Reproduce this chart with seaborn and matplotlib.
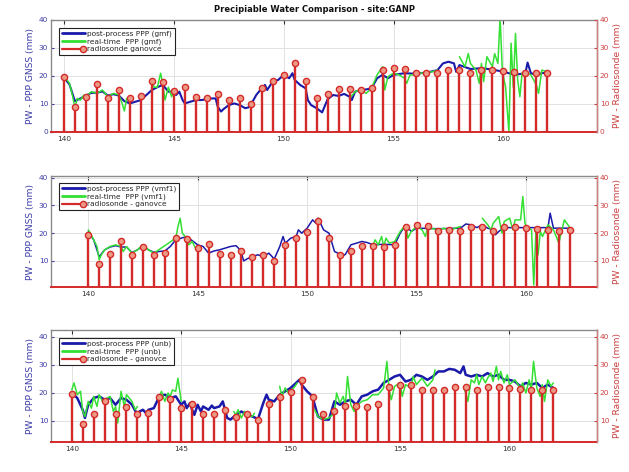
import numpy as np
import pandas as pd
import matplotlib
matplotlib.use("Agg")
import matplotlib.pyplot as plt
from matplotlib.lines import Line2D
from matplotlib.legend_handler import HandlerBase
import seaborn as sns

# radiosonde launches (day of year) and PW (mm)
radio_t = [140.0, 140.5, 141.0, 141.5, 142.0, 142.5, 143.0, 143.5, 144.0, 144.5,
           145.0, 145.5, 146.0, 146.5, 147.0, 147.5, 148.0, 148.5, 149.0, 149.5,
           150.0, 150.5, 151.0, 151.5, 152.0, 152.5, 153.0, 153.5, 154.0, 154.5,
           155.0, 155.5, 156.0, 156.5, 157.0, 157.5, 158.0, 158.5, 159.0, 159.5,
           160.0, 160.5, 161.0, 161.5, 162.0]
radio_pw = [19.5, 9.0, 12.5, 17.1, 12.3, 14.9, 12.3, 12.9, 18.3, 17.8,
            14.7, 16.1, 12.5, 12.3, 13.7, 11.3, 12.3, 10.1, 15.8, 18.3,
            20.3, 24.5, 18.3, 12.3, 13.5, 15.2, 15.2, 14.9, 15.8, 22.1,
            22.9, 22.6, 20.9, 21.1, 20.9, 22.1, 22.1, 20.9, 22.1, 22.1,
            21.7, 21.5, 21.1, 20.9, 21.1]

nan = np.nan

# --- gmf ---
gmf_post_t = [140.0, 140.25, 140.5, 140.75, 141.0, 141.25, 141.5, 141.75, 142.0, 142.25,
              142.5, 142.75, 143.0, 143.25, 143.5, 143.75, 144.0, 144.25, 144.5, 144.75,
              145.0, 145.1, 145.25, 145.4, 145.5, 145.75, 146.0, 146.25, 146.5, 146.75,
              146.9, 147.0, 147.15, 147.25, 147.5, 147.75, 148.0, 148.25, 148.4, 148.5,
              148.75, 149.0, 149.15, 149.25, 149.5, 149.75, 150.0, 150.25, 150.4, 150.5,
              150.75, 151.0, 151.1, 151.25, 151.5, 151.75, 152.0, 152.25, 152.5, 152.75,
              153.0, 153.1, 153.25, 153.5, 153.75, 154.0, 154.25, 154.5, 154.75, 155.0,
              155.5, 156.0, 156.5, 157.0, 157.25, 157.5, 157.75, 157.85, 158.0, 158.5,
              159.0, 159.5, 160.0, 160.25, 160.5, 160.75, 161.0, 161.1, 161.25, 161.5,
              161.75, 162.0]
gmf_post_pw = [19.5, 17.0, 11.0, 12.0, 13.0, 14.0, 14.0, 14.5, 13.0, 13.5,
               13.0, 11.0, 10.2, 10.8, 11.4, 13.2, 15.0, 16.0, 16.8, 14.4,
               14.4, 13.2, 14.4, 11.4, 10.2, 10.8, 11.4, 11.4, 11.7, 12.0,
               12.0, 9.0, 7.3, 8.1, 9.6, 10.2, 9.6, 8.5, 8.8, 9.6,
               13.2, 15.6, 16.8, 15.0, 18.0, 18.6, 20.4, 19.2, 21.0, 18.6,
               16.8, 15.6, 11.4, 9.6, 8.5, 7.0, 11.7, 13.2, 12.9, 13.6,
               12.6, 11.4, 14.4, 15.0, 15.2, 15.6, 19.2, 20.4, 19.2, 20.4,
               21.0, 20.8, 21.2, 22.1, 24.5, 25.1, 24.5, 21.5, 23.9, 22.5,
               22.8, 22.3, 21.5, 21.0, 20.4, 20.7, 21.0, 24.8, 21.0, 20.4,
               21.0, 21.2]
gmf_rt_t = [140.0, 140.1, 140.25, 140.4, 140.5, 140.6, 140.75, 140.9, 141.0, 141.25,
            141.5, 141.75, 142.0, 142.25, 142.5, 142.65, 142.75, 142.85, 143.0, 143.1,
            143.5, 144.0, 144.1, 144.25, 144.4, 144.5, 144.6, 144.75, 144.9, 145.0,
            149.0, 153.0, 153.25, 153.5, 153.75, 154.0, 154.25, 154.5, 154.6, 154.75,
            155.0, 155.25, 155.5, 155.6, 155.75, 156.0, 156.25, 156.5, 156.75, 157.0,
            157.5, 158.0, 158.25, 158.4, 158.5, 158.75, 158.9, 159.0, 159.1, 159.25,
            159.5, 159.6, 159.75, 159.85, 159.95, 160.0, 160.1, 160.25, 160.35, 160.45,
            160.55, 160.65, 160.75, 160.85, 161.0, 161.25, 161.5, 161.6, 161.75, 162.0]
gmf_rt_pw = [19.8, 19.0, 17.4, 12.6, 8.5, 12.0, 11.4, 13.2, 12.6, 14.4,
             13.8, 15.0, 12.6, 13.8, 13.2, 10.2, 7.5, 12.0, 10.8, 12.0,
             nan, 18.6, 16.0, 16.0, 21.0, 16.8, 11.4, 16.0, 12.6, 15.0,
             nan, 12.0, 14.4, 15.0, 13.8, 15.6, 20.4, 23.3, 15.0, 19.8,
             21.0, 20.4, 19.2, 17.4, 20.4, 20.4, 21.0, 21.2, 21.5, 22.1,
             nan, 26.9, 23.3, 28.0, 24.5, 22.1, 17.4, 24.5, 18.0, 26.9,
             23.3, 28.0, 24.5, 41.0, 22.1, 19.8, 16.0, 0.0, 31.7, 16.0,
             35.2, 18.6, 12.6, 21.0, 21.5, 20.4, 16.8, 13.8, 22.1, 21.5]

# --- vmf1 ---
vmf_post_t = [140.0, 140.25, 140.5, 140.75, 141.0, 141.25, 141.5, 141.75, 142.0, 142.25,
              142.5, 142.75, 143.0, 143.25, 143.5, 143.75, 144.0, 144.5, 145.0, 145.25,
              145.5, 145.75, 146.0, 146.25, 146.5, 146.75, 146.9, 147.0, 147.1, 147.25,
              147.5, 147.75, 148.0, 148.25, 148.5, 148.75, 148.9, 149.0, 149.25, 149.5,
              149.6, 149.75, 150.0, 150.25, 150.4, 150.5, 150.75, 151.0, 151.25, 151.5,
              151.6, 151.75, 152.0, 152.25, 152.5, 152.75, 153.0, 153.5, 154.0, 154.25,
              154.5, 154.75, 155.0, 156.0, 157.0, 157.25, 157.5, 157.75, 158.0, 158.25,
              158.5, 158.6, 158.75, 159.0, 160.0, 161.0, 161.1, 161.25, 162.0]
vmf_post_pw = [20.5, 17.6, 11.5, 14.0, 15.0, 15.5, 15.0, 15.0, 13.0, 14.0,
               15.5, 14.0, 13.1, 13.4, 13.6, 15.2, 17.6, 18.8, 15.8, 15.2,
               12.8, 13.6, 14.0, 14.6, 15.2, 15.5, 14.3, 12.8, 10.0, 10.7,
               11.6, 12.2, 11.6, 12.8, 10.7, 15.2, 18.8, 16.4, 18.2, 18.8,
               21.2, 20.0, 21.8, 24.8, 23.6, 25.4, 21.2, 20.0, 13.4, 12.4,
               11.6, 12.4, 15.8, 16.4, 17.0, 16.6, 15.8, 16.0, 15.8, 20.0,
               23.0, 20.6, 21.8, 21.6, 21.8, 23.3, 23.0, 22.0, 23.0, 21.8,
               21.2, 19.4, 20.6, 22.0, 22.0, 22.0, 27.2, 21.8, 21.8]
vmf_rt_t = [140.0, 140.1, 140.25, 140.4, 140.5, 140.6, 140.75, 141.0, 141.25, 141.5,
            141.6, 141.75, 142.0, 142.25, 142.5, 142.75, 143.0, 144.0, 144.1, 144.2,
            144.3, 144.5, 144.6, 144.75, 144.9, 145.0, 149.0, 153.0, 153.1, 153.25,
            153.4, 153.5, 153.6, 153.75, 154.0, 154.25, 154.5, 154.6, 154.75, 155.0,
            155.25, 155.4, 155.5, 155.75, 156.0, 156.25, 156.5, 156.75, 157.0, 157.5,
            158.0, 158.25, 158.4, 158.5, 158.75, 158.9, 159.0, 159.25, 159.4, 159.5,
            159.75, 159.85, 159.95, 160.0, 160.25, 160.35, 160.45, 160.55, 160.65, 160.75,
            161.0, 161.25, 161.5, 161.6, 161.75, 162.0]
vmf_rt_pw = [21.2, 20.0, 17.6, 15.2, 10.4, 12.2, 14.0, 15.2, 15.8, 15.2,
             13.4, 15.2, 12.8, 14.0, 15.8, 14.0, 12.8, 18.2, 22.4, 25.4,
             20.0, 18.2, 15.8, 17.0, 14.6, 15.2, nan, 15.2, 17.6, 15.8,
             18.8, 15.2, 18.2, 16.4, 17.0, 20.6, 23.0, 18.2, 20.6, 22.4,
             21.2, 18.8, 21.8, 21.6, 21.2, 21.8, 20.6, 21.8, 22.4, nan,
             25.4, 23.0, 21.2, 23.6, 26.0, 20.0, 24.2, 25.4, 21.2, 24.8,
             24.8, 33.2, 23.6, 22.4, 21.2, 1.3, 20.6, 12.2, 20.6, 18.8,
             23.0, 21.2, 16.4, 20.0, 24.8, 22.0]

# --- unb ---
unb_post_t = [140.0, 140.25, 140.5, 140.6, 140.75, 141.0, 141.25, 141.5, 141.75, 142.0,
              142.25, 142.5, 142.75, 143.0, 143.1, 143.25, 143.4, 143.5, 143.75, 144.0,
              144.25, 144.5, 144.75, 145.0, 145.15, 145.25, 145.4, 145.5, 145.6, 145.75,
              145.9, 146.0, 146.25, 146.4, 146.5, 146.75, 146.9, 147.0, 147.1, 147.25,
              147.5, 147.75, 148.0, 148.25, 148.4, 148.5, 148.75, 148.9, 149.0, 149.25,
              149.5, 149.75, 150.0, 150.25, 150.4, 150.5, 150.75, 151.0, 151.1, 151.25,
              151.5, 151.75, 152.0, 152.25, 152.5, 152.75, 153.0, 153.25, 153.5, 153.75,
              154.0, 154.25, 154.5, 154.75, 155.0, 155.25, 155.5, 155.75, 156.0, 156.25,
              156.5, 156.75, 157.0, 157.25, 157.5, 157.75, 157.9, 158.0, 158.25, 158.5,
              158.75, 159.0, 159.25, 159.5, 159.75, 160.0, 160.25, 160.5, 160.75, 161.0,
              161.25, 161.5, 161.75, 162.0]
unb_post_pw = [19.9, 18.1, 13.9, 11.0, 15.7, 18.1, 18.7, 17.5, 18.1, 15.7,
               18.1, 17.5, 15.7, 12.1, 13.3, 13.9, 12.7, 13.9, 14.5, 18.7,
               19.3, 18.1, 18.7, 15.7, 16.9, 14.5, 16.3, 13.9, 12.1, 15.7,
               13.3, 15.1, 13.9, 15.4, 14.5, 15.1, 16.9, 13.9, 11.0, 10.4,
               12.1, 13.3, 12.1, 11.5, 11.0, 10.4, 16.3, 19.3, 17.5, 16.9,
               19.3, 20.5, 21.7, 23.5, 24.6, 22.9, 20.5, 18.7, 15.7, 11.5,
               10.4, 10.4, 16.9, 15.7, 16.9, 17.5, 15.7, 18.7, 19.3, 20.5,
               21.1, 23.5, 24.6, 25.8, 26.4, 24.0, 24.6, 26.4, 25.8, 24.6,
               25.8, 27.6, 27.6, 28.5, 28.2, 27.0, 29.4, 26.4, 25.8, 26.4,
               25.8, 27.0, 25.8, 26.4, 24.6, 24.6, 24.0, 22.3, 23.5, 22.9,
               23.5, 21.7, 22.9, 21.7]
unb_rt_t = [140.0, 140.1, 140.25, 140.4, 140.5, 140.6, 140.75, 140.9, 141.0, 141.15,
            141.25, 141.4, 141.5, 141.75, 141.9, 142.0, 142.1, 142.25, 142.4, 142.5,
            142.75, 142.9, 143.0, 143.5, 144.0, 144.1, 144.25, 144.4, 144.5, 144.6,
            144.75, 144.85, 145.0, 146.0, 147.4, 147.5, 147.6, 147.75, 147.9, 148.0,
            148.25, 148.35, 149.0, 149.5, 149.6, 149.75, 149.9, 150.0, 150.2, 150.3,
            150.7, 151.1, 151.25, 151.5, 151.75, 152.0, 152.1, 152.25, 152.4, 152.5,
            152.6, 152.75, 152.9, 153.0, 153.25, 153.5, 153.75, 154.0, 154.25, 154.4,
            154.5, 154.6, 154.75, 155.0, 155.1, 155.25, 155.5, 155.6, 155.75, 156.0,
            156.25, 156.5, 156.6, 157.2, 157.9, 158.0, 158.1, 158.25, 158.4, 158.5,
            158.6, 158.75, 158.9, 159.0, 159.15, 159.25, 159.4, 159.5, 159.6, 159.75,
            159.9, 160.0, 160.25, 160.5, 160.6, 160.75, 160.9, 161.0, 161.1, 161.25,
            161.4, 161.5, 161.6, 161.75, 161.9, 162.0]
unb_rt_pw = [21.0, 23.5, 19.3, 20.5, 13.3, 11.5, 16.9, 14.5, 18.7, 15.1,
             19.3, 16.9, 17.5, 18.7, 13.3, 15.1, 9.2, 20.5, 15.1, 19.3,
             16.9, 13.9, 15.1, nan, 18.7, 20.5, 16.9, 19.9, 18.7, 21.0,
             20.5, 25.2, 16.9, nan, 13.3, 12.1, 13.9, 11.0, 13.3, 12.1,
             11.5, 12.7, nan, 22.3, 18.7, 21.7, 19.9, 20.5, 22.3, 23.5,
             nan, 13.9, 11.5, 10.4, 11.0, 12.7, 19.9, 16.3, 18.7, 15.7,
             25.8, 15.7, 13.3, 15.1, 16.9, 17.5, 19.3, 19.3, 21.7, 31.2,
             21.1, 17.5, 22.3, 23.5, 18.7, 22.9, 21.7, 25.8, 22.9, 25.2,
             22.3, 24.6, 28.2, nan, 22.0, 19.9, 16.9, 24.6, 23.5, 26.4,
             22.9, 25.8, 23.5, 25.2, 27.0, 24.0, 29.4, 24.6, 27.6, 23.5,
             26.4, 22.9, 24.6, 21.7, 23.5, 19.9, 24.6, 21.1, 31.2, 21.7,
             18.7, 22.9, 16.9, 24.6, 22.3, 23.5]

BLUE = "#1a1aaa"
GREEN = "#33e033"
RED = "#d42a2a"
RED_FACE = "#ec9a86"
LEFT_C = "#3c3ca8"
RIGHT_C = "#cc4040"


class StemHandler(HandlerBase):
    # line with the circle sitting at its right end, like a matlab stem legend
    def create_artists(self, legend, orig_handle, xdescent, ydescent, width, height, fontsize, trans):
        y = height / 2 - ydescent
        x0, x1 = -xdescent, width - xdescent
        line = Line2D([x0, x1], [y, y], color=RED, lw=1.6, transform=trans)
        mark = Line2D([x1 - 1.5], [y], ls="none", marker="o", ms=4.5, mfc=RED_FACE,
                      mec=RED, mew=1.0, transform=trans)
        return [line, mark]


def to_frame(t, pw):
    df = pd.DataFrame({"t": t, "pw": pw})
    df["seg"] = df["pw"].isna().cumsum()
    return df.dropna()


sns.set_theme(style="whitegrid")
plt.rcParams["font.family"] = ["DejaVu Sans"]

fig = plt.figure(figsize=(6.29, 4.72), dpi=100)

panels = [
    dict(rect=[51 / 629, 1 - 132 / 472, 546 / 629, 112 / 472], xlim=(139.41, 164.26), ylim=(0, 40),
         yticks=[0, 10, 20, 30, 40], post=(gmf_post_t, gmf_post_pw), rt=(gmf_rt_t, gmf_rt_pw),
         labels=["post-process PPP (gmf)", "real-time  PPP (gmf)", "radiosonde ganovce"],
         blue_lw=1.5, leg_y=1 - 8 / 112),
    dict(rect=[51 / 629, 1 - 287 / 472, 546 / 629, 111 / 472], xlim=(138.3, 163.24), ylim=(0.6, 40.6),
         yticks=[10, 20, 30, 40], post=(vmf_post_t, vmf_post_pw), rt=(vmf_rt_t, vmf_rt_pw),
         labels=["post-process PPP (vmf1)", "real-time  PPP (vmf1)", "radiosonde - ganovce"],
         blue_lw=1.1, leg_y=1 - 7 / 111),
    dict(rect=[51 / 629, 1 - 442 / 472, 546 / 629, 112 / 472], xlim=(139.05, 164.0), ylim=(2.4, 42.4),
         yticks=[10, 20, 30, 40], post=(unb_post_t, unb_post_pw), rt=(unb_rt_t, unb_rt_pw),
         labels=["post-process PPP (unb)", "real-time  PPP (unb)", "radiosonde - ganovce"],
         blue_lw=1.8, leg_y=1 - 8 / 112),
]

for p in panels:
    ax = fig.add_axes(p["rect"])
    post = to_frame(*p["post"])
    rt = to_frame(*p["rt"])
    sns.lineplot(data=post, x="t", y="pw", units="seg", estimator=None, sort=False,
                 color=BLUE, lw=p["blue_lw"], ax=ax, legend=False)
    sns.lineplot(data=rt, x="t", y="pw", units="seg", estimator=None, sort=False,
                 color=GREEN, lw=1.1, ax=ax, legend=False)
    ax.set_xlim(p["xlim"])
    ax.set_ylim(p["ylim"])
    ax.set_xticks([140, 145, 150, 155, 160])
    ax.set_yticks(p["yticks"])
    ax.set_xlabel("")
    ax.set_ylabel("PW - PPP GNSS (mm)", color=LEFT_C, fontsize=6.6, labelpad=3)
    ax.grid(True, color="#e2e2e2", lw=0.7)
    ax.tick_params(axis="x", direction="in", length=3, width=0.8, top=True, bottom=True,
                   labelsize=5.3, labelcolor="#333333", color="#333333", pad=3)
    ax.tick_params(axis="y", direction="in", length=2.5, width=0.8, left=True,
                   labelsize=5.3, labelcolor=LEFT_C, color=LEFT_C, pad=2)
    for side in ["top", "left", "right"]:
        ax.spines[side].set_color("#8a8a8a")
        ax.spines[side].set_linewidth(1.0)
    ax.spines["bottom"].set_color(RED)
    ax.spines["bottom"].set_linewidth(1.4)

    ax2 = ax.twinx()
    ax2.vlines(radio_t, 0, radio_pw, color=RED, lw=1.7)
    sns.scatterplot(x=radio_t, y=radio_pw, ax=ax2, marker="o", s=20, color=RED_FACE,
                    edgecolor=RED, linewidth=1.0, zorder=3, legend=False)
    ax2.set_ylim(p["ylim"])
    ax2.set_yticks(p["yticks"])
    ax2.grid(False)
    ax2.set_ylabel("PW - Radiosonde (mm)", color=RIGHT_C, fontsize=6.6, labelpad=3)
    ax2.tick_params(axis="y", direction="in", length=2.5, width=0.8, right=True,
                    labelsize=5.3, labelcolor=RIGHT_C, color=RIGHT_C, pad=2)
    for side in ["top", "left", "bottom"]:
        ax2.spines[side].set_visible(False)
    ax2.spines["right"].set_color("#d08080")
    ax2.spines["right"].set_linewidth(1.0)

    h_post = Line2D([0], [0], color=BLUE, lw=2.0)
    h_rt = Line2D([0], [0], color=GREEN, lw=2.0)
    h_stem = Line2D([0], [0], color=RED, lw=1.6, marker="o")
    leg = ax2.legend([h_post, h_rt, h_stem], p["labels"], loc="upper left",
                     bbox_to_anchor=(8 / 546, p["leg_y"]), borderaxespad=0,
                     fontsize=5.3, frameon=True, fancybox=False, framealpha=1,
                     edgecolor="#222222", handlelength=3.2, handletextpad=0.3,
                     labelspacing=0.15, borderpad=0.35,
                     handler_map={h_stem: StemHandler()})
    leg.get_frame().set_linewidth(0.8)

fig.text(315 / 629, 1 - 10 / 472, "Precipiable Water Comparison - site:GANP",
         ha="center", va="center", fontsize=6, fontweight="bold", color="#111111")

fig.savefig("out.png", dpi=100)
